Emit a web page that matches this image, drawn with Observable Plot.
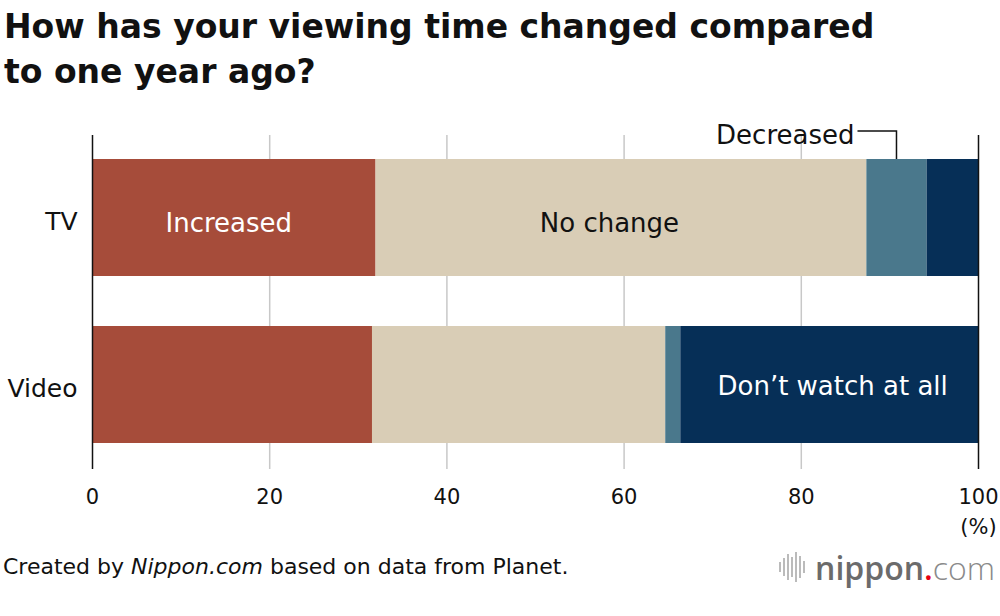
<!DOCTYPE html>
<html>
<head>
<meta charset="utf-8">
<script src="https://cdn.jsdelivr.net/npm/d3@7"></script>
<script src="https://cdn.jsdelivr.net/npm/@observablehq/plot@0.6"></script>
<style>
  body { margin: 0; background: #fff; font-family: "DejaVu Sans", "Liberation Sans", Arial, sans-serif; width: 1000px; height: 616px; overflow: hidden; position: relative; }
  #title { position: absolute; left: 4px; top: 4px; font-size: 33px; font-weight: bold; line-height: 45px; color: #111; white-space: nowrap; }
  #chart { position: absolute; left: 0; top: 110px; }
  #caption { position: absolute; left: 3px; top: 554px; font-size: 22px; color: #111; white-space: nowrap; }
  #logo { position: absolute; right: 5px; top: 542px; height: 50px; display: flex; align-items: center; }
  #logo .bars { display: flex; align-items: center; gap: 2px; margin-right: 10px; }
  #logo .bars span { display: block; width: 2px; background: #bbb; }
  #logo .word { font-size: 32px; color: #6b6b6b; font-family: "Open Sans", "DejaVu Sans", sans-serif; font-weight: 600; }
  #logo .dot { color: #e60012; }
  #logo .com { color: #8a8a8a; font-weight: 300; }
</style>
</head>
<body>
<div id="title">How has your viewing time changed compared<br>to one year ago?</div>
<div id="chart"></div>
<div id="caption">Created by <i>Nippon.com</i> based on data from Planet.</div>
<div id="logo">
  <div class="bars"><span style="height:10px"></span><span style="height:18px"></span><span style="height:26px"></span><span style="height:20px"></span><span style="height:30px"></span><span style="height:22px"></span><span style="height:12px"></span></div>
  <div class="word">nippon<span class="dot">.</span><span class="com">com</span></div>
</div>
<script>
const groups = ["TV", "Video"];
const categories = ["Increased", "No change", "Decreased", "Don’t watch at all"];
const tvValues = [32.0, 55.4, 6.8, 5.8];
const videoValues = [31.6, 33.1, 1.7, 33.6];
const colors = ["#a64c3a", "#d9cdb6", "#4a788c", "#062f57"];
const xTicks = [0, 20, 40, 60, 80, 100];
const gridTicks = [20, 40, 60, 80];
const edgeTicks = [0, 100];

const FONT = "'DejaVu Sans', 'Liberation Sans', Arial, sans-serif";

const data = groups.flatMap((g, i) =>
  categories.map((c, j) => ({group: g, category: c, value: (i === 0 ? tvValues : videoValues)[j]}))
);

const labelFor = (g, c) => d => (d.group === g && d.category === c) ? c : "";

const callout = (index, scales) => {
  const x1 = tvValues[0] + tvValues[1];
  const x2 = x1 + tvValues[2];
  const xm = scales.x((x1 + x2) / 2);
  const top = scales.y("TV");
  const g = d3.create("svg:g");
  g.append("path")
    .attr("d", `M${xm},${top} V${top - 28} H${xm - 39}`)
    .attr("fill", "none").attr("stroke", "#111").attr("stroke-width", 1.5);
  g.append("text")
    .attr("x", xm - 42).attr("y", top - 15)
    .attr("text-anchor", "end")
    .attr("font-family", FONT)
    .attr("font-size", 26).attr("fill", "#111")
    .text("Decreased");
  return g.node();
};

const plot = Plot.plot({
  width: 1000,
  height: 440,
  marginLeft: 92,
  marginRight: 22,
  marginTop: 25,
  marginBottom: 81,
  style: {fontFamily: FONT, fontSize: "21px", color: "#111", background: "transparent"},
  x: {domain: [0, 100]},
  y: {domain: groups, range: [48, 334], paddingInner: 0.2976, paddingOuter: 0},
  color: {domain: categories, range: colors},
  marks: [
    Plot.ruleX(gridTicks, {stroke: "#c8c8c8", strokeWidth: 1.5}),
    Plot.barX(data, {x: "value", y: "group", fill: "category"}),
    Plot.ruleX(edgeTicks, {stroke: "#111", strokeWidth: 1.5}),
    Plot.axisX({ticks: xTicks, tickSize: 0, tickPadding: 20, fontSize: 21, label: null}),
    Plot.axisY({tickSize: 0, tickPadding: 15, fontSize: 25, label: null, dy: 3.5}),
    Plot.text(data, Plot.stackX({x: "value", y: "group", text: labelFor("TV", "Increased"), fill: "white", fontSize: 26, dx: -5.5, dy: 6})),
    Plot.text(data, Plot.stackX({x: "value", y: "group", text: labelFor("TV", "No change"), fill: "#111", fontSize: 26, dx: -12, dy: 6})),
    Plot.text(data, Plot.stackX({x: "value", y: "group", text: labelFor("Video", "Don’t watch at all"), fill: "white", fontSize: 26, dx: 3, dy: 2})),
    Plot.text(["(%)"], {x: edgeTicks[1], text: d => d, frameAnchor: "bottom", dy: 64, fontSize: 21, fill: "#111"}),
    callout
  ]
});
document.getElementById("chart").appendChild(plot);
</script>
</body>
</html>
